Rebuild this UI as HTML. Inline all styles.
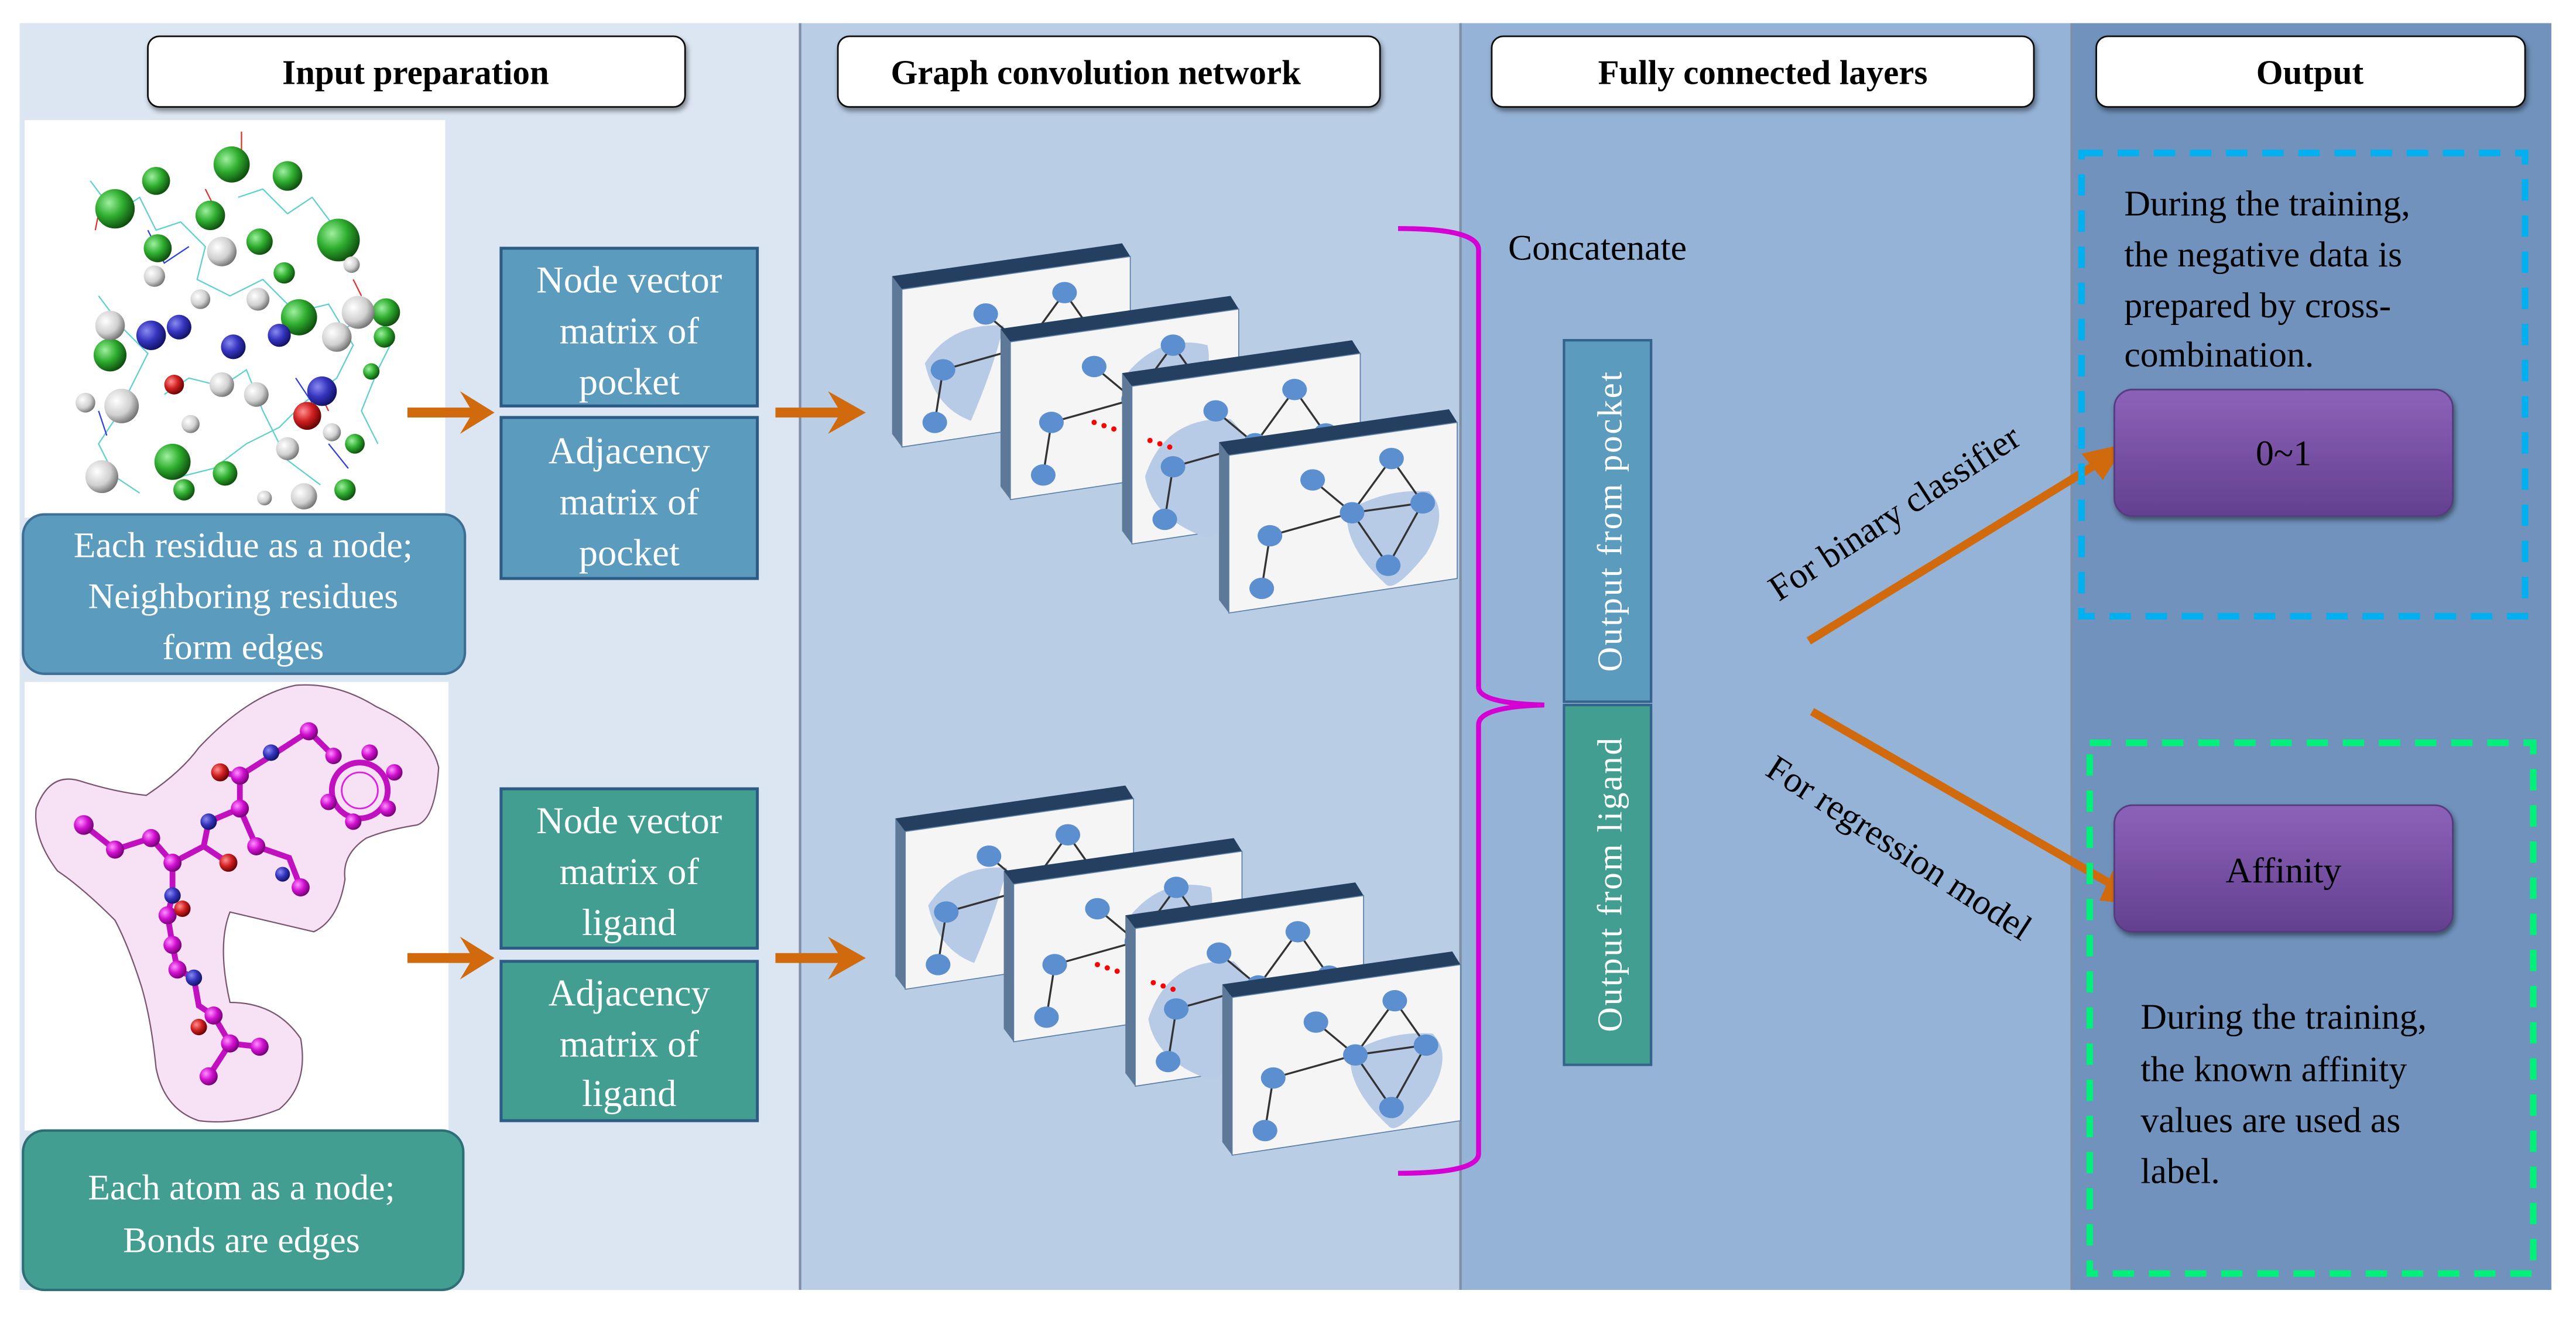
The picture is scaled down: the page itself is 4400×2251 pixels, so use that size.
<!DOCTYPE html>
<html><head><meta charset="utf-8"><style>
html,body{margin:0;padding:0;background:#fff;}
svg{display:block;font-family:"Liberation Serif","Times New Roman",serif;}
svg text{font-family:"Liberation Serif","Times New Roman",serif;}
</style></head><body>
<svg width="4400" height="2251" viewBox="0 0 1568 802" xmlns="http://www.w3.org/2000/svg" font-family="Liberation Serif, serif" style="font-family:'Liberation Serif',serif">
<defs>
<radialGradient id="gG" cx="35%" cy="35%" r="70%"><stop offset="0" stop-color="#9ef09e"/><stop offset="0.5" stop-color="#2fae2f"/><stop offset="1" stop-color="#0c4a0c"/></radialGradient>
<radialGradient id="gW" cx="35%" cy="35%" r="70%"><stop offset="0" stop-color="#ffffff"/><stop offset="0.6" stop-color="#d0d0d0"/><stop offset="1" stop-color="#707070"/></radialGradient>
<radialGradient id="gB" cx="35%" cy="35%" r="70%"><stop offset="0" stop-color="#8a8af0"/><stop offset="0.5" stop-color="#3535c0"/><stop offset="1" stop-color="#101060"/></radialGradient>
<radialGradient id="gR" cx="35%" cy="35%" r="70%"><stop offset="0" stop-color="#ff9090"/><stop offset="0.5" stop-color="#d02020"/><stop offset="1" stop-color="#600000"/></radialGradient>
<radialGradient id="gM" cx="35%" cy="35%" r="70%"><stop offset="0" stop-color="#ff90ff"/><stop offset="0.5" stop-color="#d010d0"/><stop offset="1" stop-color="#700070"/></radialGradient>
<linearGradient id="pur" x1="0" y1="0" x2="0" y2="1"><stop offset="0" stop-color="#8c62b8"/><stop offset="1" stop-color="#634090"/></linearGradient>
<filter id="sh" x="-10%" y="-10%" width="130%" height="140%"><feDropShadow dx="1" dy="2" stdDeviation="1.5" flood-opacity="0.45"/></filter>
<g id="card">
  <polygon points="-6,-8 0,0 0,96 -6,88" fill="#5e7898"/>
  <polygon points="-6,-8 134,-28 139,-20 0,0" fill="#243f60"/>
  <polygon points="0,0 139,-20 139,75 0,96" fill="#f5f5f5" stroke="#5a7ea8" stroke-width="0.6"/>
</g>
<g id="gr">
  <g stroke="#333" stroke-width="1.2">
    <line x1="51" y1="15" x2="75" y2="35"/><line x1="99" y1="2" x2="75" y2="35"/><line x1="99" y1="2" x2="118" y2="29"/>
    <line x1="75" y1="35" x2="118" y2="29"/><line x1="75" y1="35" x2="25" y2="49"/><line x1="25" y1="49" x2="20" y2="81"/>
    <line x1="75" y1="35" x2="97" y2="67"/><line x1="118" y1="29" x2="97" y2="67"/>
  </g>
  <g fill="#5b8fd0">
    <ellipse cx="51" cy="15" rx="7.5" ry="6.5"/><ellipse cx="99" cy="2" rx="7.5" ry="6.5"/><ellipse cx="75" cy="35" rx="7.5" ry="6.5"/>
    <ellipse cx="118" cy="29" rx="7.5" ry="6.5"/><ellipse cx="25" cy="49" rx="7.5" ry="6.5"/><ellipse cx="97" cy="67" rx="7.5" ry="6.5"/>
    <ellipse cx="20" cy="81" rx="7.5" ry="6.5"/>
  </g>
</g>
</defs>

<!-- panels -->
<rect x="12" y="14" width="475" height="771" fill="#dce6f2"/>
<rect x="487" y="14" width="402" height="771" fill="#b9cde5"/>
<rect x="889" y="14" width="372" height="771" fill="#95b3d7"/>
<rect x="1261" y="14" width="292" height="771" fill="#7092bc"/>
<g stroke="#7f8fa6" stroke-width="1.5"><line x1="487" y1="14" x2="487" y2="785"/><line x1="889" y1="14" x2="889" y2="785"/><line x1="1261" y1="14" x2="1261" y2="785"/></g>

<!-- headers -->
<g filter="url(#sh)" fill="#fff" stroke="#111" stroke-width="1">
<rect x="90" y="22" width="327" height="43" rx="7"/>
<rect x="510" y="22" width="330" height="43" rx="7"/>
<rect x="908" y="22" width="330" height="43" rx="7"/>
<rect x="1276" y="22" width="261" height="43" rx="7"/>
</g>
<g font-weight="bold" font-size="21" text-anchor="middle">
<text x="253" y="51">Input preparation</text>
<text x="667" y="51">Graph convolution network</text>
<text x="1073" y="51">Fully connected layers</text>
<text x="1406" y="51">Output</text>
</g>

<!-- protein image -->
<rect x="15" y="73" width="256" height="242" fill="#fff"/>
<g stroke="#5fd0d0" stroke-width="0.8" fill="none">
<polyline points="55,110 70,130 85,120 95,140 110,135 125,150 120,170 140,180 160,170 180,190 200,185 215,210 205,230 185,245 170,260 150,270 130,285 110,290"/>
<polyline points="60,180 75,200 90,215 80,235 70,255 60,270 70,290 85,300"/>
<polyline points="145,120 160,115 175,130 190,120 205,140 215,160"/>
<polyline points="100,240 115,230 135,235 150,225 160,250 175,280 195,295"/>
<polyline points="210,200 225,190 240,205 230,225 220,250 230,270"/>
</g>
<g stroke="#3040e0" stroke-width="0.8" fill="none"><polyline points="90,140 100,160 115,150"/><polyline points="180,230 190,245"/><polyline points="60,250 65,265"/><polyline points="200,270 212,285"/></g>
<g stroke="#e03030" stroke-width="0.8"><line x1="147" y1="80" x2="147" y2="92"/><line x1="125" y1="115" x2="130" y2="125"/><line x1="60" y1="130" x2="58" y2="140"/><line x1="195" y1="240" x2="200" y2="250"/><line x1="215" y1="170" x2="220" y2="180"/></g>
<g fill="url(#gG)">
<circle cx="141" cy="100" r="11"/><circle cx="95" cy="110" r="8.5"/><circle cx="175" cy="107" r="9"/><circle cx="70" cy="127" r="12"/><circle cx="128" cy="131" r="9"/><circle cx="96" cy="151" r="8.5"/><circle cx="158" cy="147" r="8"/><circle cx="206" cy="146" r="13"/><circle cx="173" cy="166" r="6.5"/><circle cx="182" cy="193" r="11"/><circle cx="235" cy="190" r="8.5"/><circle cx="67" cy="216" r="10"/><circle cx="234" cy="205" r="6.5"/><circle cx="105" cy="281" r="11"/><circle cx="112" cy="298" r="6.5"/><circle cx="137" cy="288" r="7.5"/><circle cx="216" cy="270" r="6"/><circle cx="210" cy="298" r="6.5"/><circle cx="226" cy="226" r="5"/>
</g>
<g fill="url(#gW)">
<circle cx="135" cy="153" r="9"/><circle cx="94" cy="168" r="6.5"/><circle cx="214" cy="161" r="5"/><circle cx="122" cy="182" r="6"/><circle cx="157" cy="182" r="7"/><circle cx="67" cy="198" r="9"/><circle cx="205" cy="205" r="9"/><circle cx="218" cy="190" r="10"/><circle cx="135" cy="234" r="7.5"/><circle cx="156" cy="240" r="7.5"/><circle cx="52" cy="245" r="6"/><circle cx="74" cy="247" r="10.5"/><circle cx="116" cy="258" r="5.5"/><circle cx="175" cy="273" r="7"/><circle cx="202" cy="263" r="5.5"/><circle cx="62" cy="290" r="10"/><circle cx="185" cy="302" r="8"/><circle cx="161" cy="303" r="4.5"/>
</g>
<g fill="url(#gB)"><circle cx="92" cy="204" r="9"/><circle cx="109" cy="199" r="7.5"/><circle cx="142" cy="211" r="7.5"/><circle cx="170" cy="204" r="7"/><circle cx="196" cy="238" r="9"/></g>
<g fill="url(#gR)"><circle cx="106" cy="234" r="6"/><circle cx="187" cy="253" r="8.5"/></g>

<!-- pocket label -->
<rect x="14" y="313" width="269" height="97" rx="13" fill="#5b9bbd" stroke="#3d6f95" stroke-width="1.5"/>
<g fill="#fff" font-size="22" text-anchor="middle"><text x="148" y="339">Each residue as a node;</text><text x="148" y="370">Neighboring residues</text><text x="148" y="401">form edges</text></g>

<!-- ligand image -->
<rect x="15" y="415" width="258" height="273" fill="#fff"/>
<path d="M22,492 Q30,470 48,475 Q70,482 89,484 Q110,470 121,455 Q135,440 150,430 Q165,420 180,417 Q205,415 229,430 Q262,445 267,467 Q265,498 254,502 Q235,505 223,510 Q208,520 210,535 Q206,560 191,567 Q170,562 140,555 Q132,575 140,610 Q168,610 183,632 Q188,660 170,675 Q145,685 121,682 Q100,675 95,650 Q92,620 86,600 Q78,575 70,560 Q50,540 35,530 Q20,510 22,492Z" fill="#f6dcf3" fill-opacity="0.85" stroke="#7a5570" stroke-width="0.8"/>
<g stroke="#c010c0" stroke-width="3.5" fill="none" stroke-linecap="round">
<polyline points="51,502 70,517 92,510 105,525 124,515 139,525"/>
<polyline points="124,515 127,500 146,492 146,472 134,470"/>
<polyline points="146,472 165,460 188,445 203,460"/>
<polyline points="146,492 156,515 176,522 183,540"/>
<polyline points="105,525 105,545 102,557 105,575 108,590 118,595 121,612 130,618 140,635 158,637"/>
<polyline points="140,635 127,655"/>
<circle cx="219" cy="481" r="17"/>
</g>
<circle cx="219" cy="481" r="11" fill="none" stroke="#e020e0" stroke-width="1"/>
<g fill="url(#gM)">
<circle cx="51" cy="502" r="6"/><circle cx="70" cy="517" r="5.5"/><circle cx="92" cy="510" r="5.5"/><circle cx="105" cy="525" r="5.5"/><circle cx="146" cy="492" r="5.5"/><circle cx="146" cy="472" r="5.5"/><circle cx="188" cy="445" r="5.5"/><circle cx="156" cy="515" r="5.5"/><circle cx="183" cy="540" r="5.5"/><circle cx="102" cy="557" r="5.5"/><circle cx="105" cy="575" r="5.5"/><circle cx="108" cy="590" r="5.5"/><circle cx="130" cy="618" r="5.5"/><circle cx="140" cy="635" r="5.5"/><circle cx="158" cy="637" r="5.5"/><circle cx="127" cy="655" r="5.5"/>
<circle cx="203" cy="460" r="5"/><circle cx="225" cy="458" r="5"/><circle cx="240" cy="470" r="5"/><circle cx="236" cy="492" r="5"/><circle cx="215" cy="500" r="5"/><circle cx="200" cy="488" r="5"/>
</g>
<g fill="url(#gR)"><circle cx="134" cy="470" r="5.5"/><circle cx="139" cy="525" r="5.5"/><circle cx="121" cy="625" r="5"/><circle cx="111" cy="553" r="5"/></g>
<g fill="url(#gB)"><circle cx="165" cy="458" r="5"/><circle cx="127" cy="500" r="5"/><circle cx="105" cy="545" r="5"/><circle cx="118" cy="595" r="5"/><circle cx="172" cy="532" r="4.5"/></g>

<!-- ligand label -->
<rect x="14" y="688" width="268" height="97" rx="13" fill="#439e92" stroke="#2e6f75" stroke-width="1.5"/>
<g fill="#fff" font-size="22" text-anchor="middle"><text x="147" y="730">Each atom as a node;</text><text x="147" y="762">Bonds are edges</text></g>

<!-- matrix boxes -->
<g stroke="#2c5c85" stroke-width="1.8">
<rect x="305" y="151" width="156" height="96" fill="#5b9bbd"/>
<rect x="305" y="254" width="156" height="98" fill="#5b9bbd"/>
<rect x="305" y="480" width="156" height="97" fill="#439e92"/>
<rect x="305" y="585" width="156" height="97" fill="#439e92"/>
</g>
<g fill="#fff" font-size="23" text-anchor="middle">
<text x="383" y="178">Node vector</text><text x="383" y="209">matrix of</text><text x="383" y="240">pocket</text>
<text x="383" y="282">Adjacency</text><text x="383" y="313">matrix of</text><text x="383" y="344">pocket</text>
<text x="383" y="507">Node vector</text><text x="383" y="538">matrix of</text><text x="383" y="569">ligand</text>
<text x="383" y="612">Adjacency</text><text x="383" y="643">matrix of</text><text x="383" y="673">ligand</text>
</g>

<!-- orange arrows -->
<g fill="#d06a0d">
<polygon points="248,248 286,248 280,238 301,251 280,264 286,254 248,254"/>
<polygon points="472,248 510,248 504,238 527,251 504,264 510,254 472,254"/>
<polygon points="248,580 286,580 280,570 301,583 280,596 286,586 248,586"/>
<polygon points="472,580 510,580 504,570 527,583 504,596 510,586 472,586"/>
</g>

<!-- cards group 1 -->
<g>
<g transform="translate(549,176)"><use href="#card"/><path d="M14,45 Q30,20 62,22 Q55,50 42,80 Q20,72 14,45Z" fill="#b7cbe6"/><use href="#gr"/></g>
<g transform="translate(615,208)"><use href="#card"/><path d="M72,18 Q92,-5 120,2 Q125,25 100,50 Q78,45 72,18Z" fill="#b7cbe6"/><use href="#gr"/></g>
<g transform="translate(689,235)"><use href="#card"/><path d="M8,55 Q20,18 60,20 Q80,40 72,62 Q60,90 45,92 Q12,80 8,55Z" fill="#b7cbe6"/><use href="#gr"/></g>
<g transform="translate(748,277)"><use href="#card"/><path d="M72,34 Q95,20 122,22 Q135,35 120,60 Q100,85 95,78 Q70,55 72,34Z" fill="#b7cbe6"/><use href="#gr"/></g>
<g fill="#f00"><circle cx="666" cy="257" r="1.6"/><circle cx="672" cy="259" r="1.6"/><circle cx="678" cy="261" r="1.6"/><circle cx="700" cy="268" r="1.6"/><circle cx="706" cy="270" r="1.6"/><circle cx="712" cy="272" r="1.6"/></g>
</g>
<!-- cards group 2 -->
<g transform="translate(2,330)">
<g transform="translate(549,176)"><use href="#card"/><path d="M14,45 Q30,20 62,22 Q55,50 42,80 Q20,72 14,45Z" fill="#b7cbe6"/><use href="#gr"/></g>
<g transform="translate(615,208)"><use href="#card"/><path d="M72,18 Q92,-5 120,2 Q125,25 100,50 Q78,45 72,18Z" fill="#b7cbe6"/><use href="#gr"/></g>
<g transform="translate(689,235)"><use href="#card"/><path d="M8,55 Q20,18 60,20 Q80,40 72,62 Q60,90 45,92 Q12,80 8,55Z" fill="#b7cbe6"/><use href="#gr"/></g>
<g transform="translate(748,277)"><use href="#card"/><path d="M72,34 Q95,20 122,22 Q135,35 120,60 Q100,85 95,78 Q70,55 72,34Z" fill="#b7cbe6"/><use href="#gr"/></g>
<g fill="#f00"><circle cx="666" cy="257" r="1.6"/><circle cx="672" cy="259" r="1.6"/><circle cx="678" cy="261" r="1.6"/><circle cx="700" cy="268" r="1.6"/><circle cx="706" cy="270" r="1.6"/><circle cx="712" cy="272" r="1.6"/></g>
</g>

<!-- brace -->
<path d="M851,139 Q900,139 900,152 L900,418 Q900,428 940,429 Q900,430 900,441 L900,702 Q900,714 851,714" fill="none" stroke="#d400d4" stroke-width="3"/>
<text x="918" y="158" font-size="22">Concatenate</text>

<!-- output bars -->
<rect x="952" y="207" width="53" height="220" fill="#5b9bbd" stroke="#34648c" stroke-width="1.5"/>
<rect x="952" y="429" width="53" height="219" fill="#439e92" stroke="#34648c" stroke-width="1.5"/>
<g fill="#fff" font-size="21" text-anchor="middle">
<text transform="translate(987,317) rotate(-90)" letter-spacing="1">Output from pocket</text>
<text transform="translate(987,538) rotate(-90)" letter-spacing="1">Output from ligand</text>
</g>

<!-- decision arrows -->
<line x1="1101" y1="390" x2="1280" y2="280" stroke="#d06a0d" stroke-width="5"/>
<polygon points="1294,270 1267,276 1280,292" fill="#d06a0d"/>
<line x1="1103" y1="433" x2="1292" y2="542" stroke="#d06a0d" stroke-width="5"/>
<polygon points="1306,551 1286,530 1278,548" fill="#d06a0d"/>
<text transform="translate(1157,318) rotate(-33)" font-size="22" text-anchor="middle">For binary classifier</text>
<text transform="translate(1152,522) rotate(33)" font-size="22" text-anchor="middle">For regression model</text>

<!-- output panel -->
<rect x="1267" y="93" width="270" height="282" fill="none" stroke="#00b0f0" stroke-width="4" stroke-dasharray="13,9"/>
<rect x="1272" y="452" width="270" height="323" fill="none" stroke="#00f07a" stroke-width="4" stroke-dasharray="13,9"/>
<g font-size="22">
<text x="1293" y="131">During the training,</text><text x="1293" y="162">the negative data is</text><text x="1293" y="193">prepared by cross-</text><text x="1293" y="223">combination.</text>
<text x="1303" y="626">During the training,</text><text x="1303" y="658">the known affinity</text><text x="1303" y="689">values are used as</text><text x="1303" y="720">label.</text>
</g>
<g filter="url(#sh)"><rect x="1287" y="237" width="206" height="77" rx="11" fill="url(#pur)" stroke="#553a80" stroke-width="1"/>
<rect x="1287" y="490" width="206" height="77" rx="11" fill="url(#pur)" stroke="#553a80" stroke-width="1"/></g>
<g font-size="22" text-anchor="middle"><text x="1390" y="283">0~1</text><text x="1390" y="537">Affinity</text></g>
</svg>
</body></html>
